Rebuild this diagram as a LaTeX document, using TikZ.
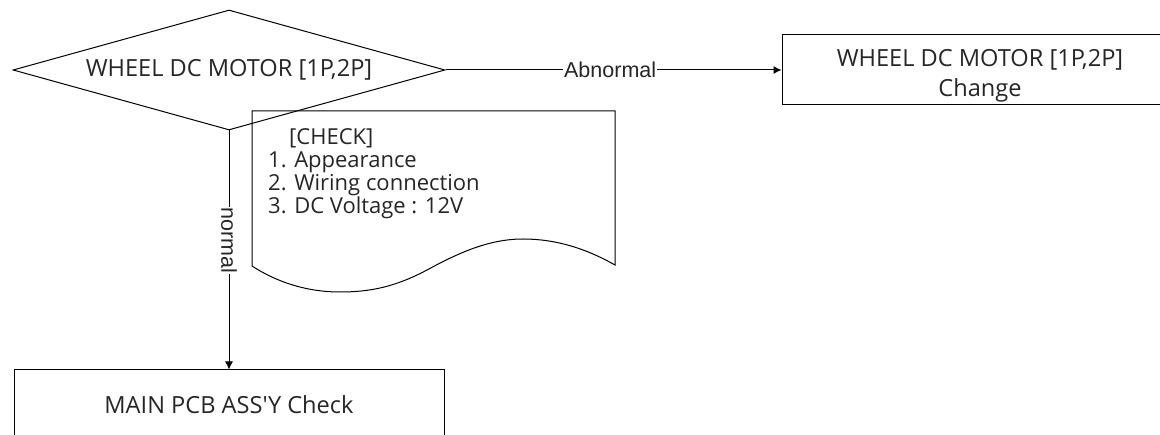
\documentclass[tikz,border=0pt]{standalone}
\usepackage{fontspec}
\setmainfont{Open Sans}[Ligatures=TeXOff]
\setsansfont{Liberation Sans}
\usetikzlibrary{arrows.meta,shapes.geometric}

\newcommand\notefont{\fontsize{22}{23}\selectfont\lineskiplimit=-20pt\relax}
\tikzset{
	Box/.style={draw, line width=1pt, inner sep=0pt, align=center, text=black!85,
		font=\fontsize{23.6}{30}\selectfont},
	Decision/.style={Box, diamond, shape aspect=3.6,
		minimum width=432pt, minimum height=120pt},
	Flow/.style={-{Latex[length=8pt,width=8pt]}, line width=1pt},
	Lbl/.style={fill=white, inner sep=1pt, text=black!85,
		font=\sffamily\fontsize{21.5}{24}\selectfont},
	Note/.style={align=left, inner sep=0pt, text=black!85, font=\notefont}
}

\begin{document}
\begin{tikzpicture}[x=1pt,y=-1pt]
	\useasboundingbox (0,0) rectangle (1160,435);
		\node[Decision] (motor) at (229,70) {WHEEL DC MOTOR [1P,2P]};
		\node[Box, minimum width=396pt, minimum height=70pt] (change) at (980,70)
			{\rule{0pt}{29pt}WHEEL DC MOTOR [1P,2P]\\Change};
		\node[Box, minimum width=430pt, minimum height=70pt] (pcb) at (229,405)
			{MAIN PCB ASS'Y Check};
	% check sheet
		\draw[line width=1pt] (252,111) -- (615,111) -- (615,265)
			.. controls (585,248) and (555,239) .. (523,239)
			.. controls (490,239) and (460,252) .. (427,270)
			.. controls (395,287) and (370,292) .. (340,292)
			.. controls (305,292) and (275,281) .. (252,266) -- cycle;
		\node[Note, anchor=north west] (check) at (268,128)
			{\hspace*{21pt}[CHECK]\\1. Appearance\\2. Wiring connection\\3. DC Voltage : 12V};
		\draw[Flow] (motor.east) -- node[Lbl, pos=0.49] (abn) {Abnormal} (change.west);
		\draw[Flow] (motor.south) -- node[Lbl, pos=0.46, rotate=-90] (nor) {normal} (pcb.north);
	\end{tikzpicture}
\end{document}
